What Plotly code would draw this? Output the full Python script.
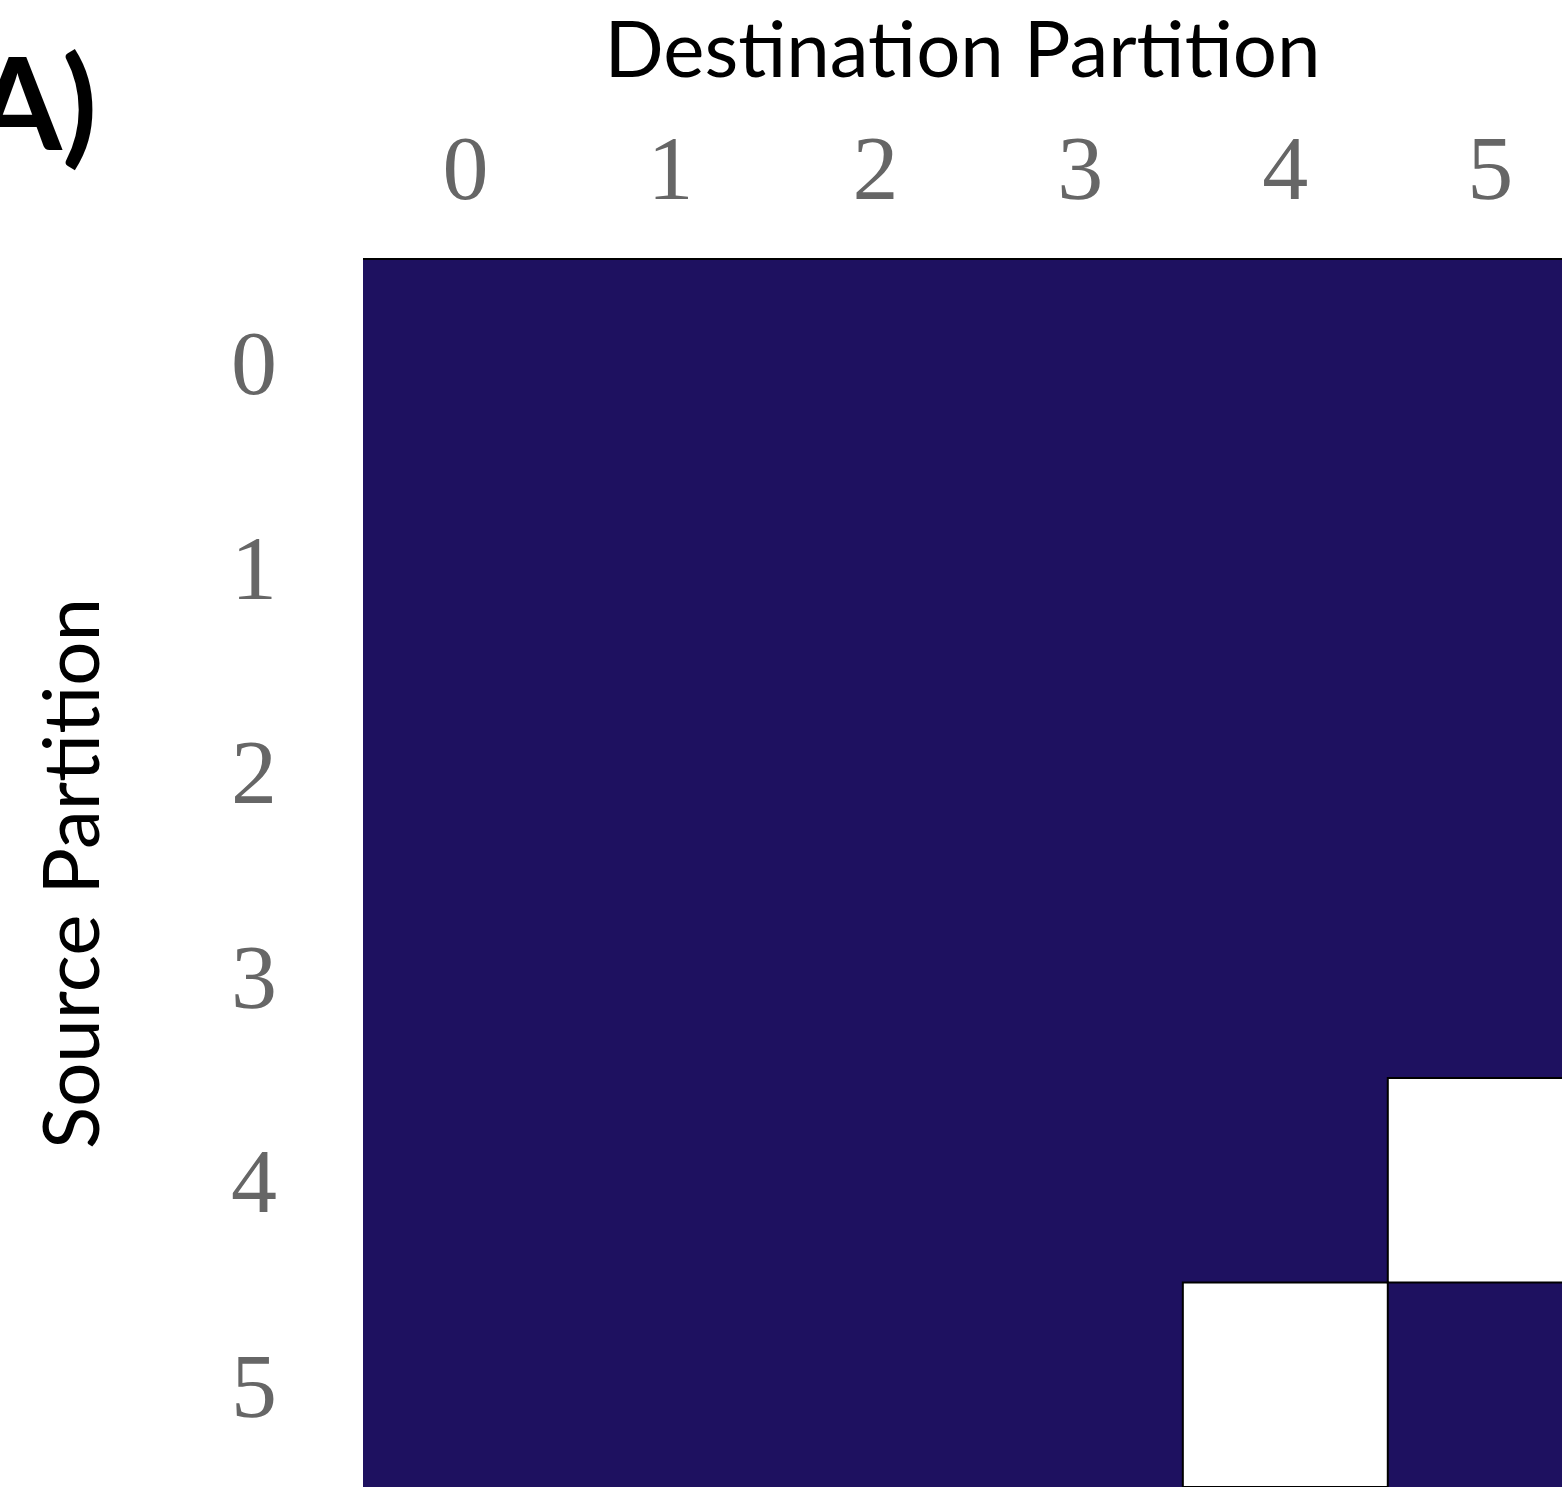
import plotly.graph_objects as go

# Partition connectivity: 1 = edge present, 0 = no edge
source_partitions = [0, 1, 2, 3, 4, 5]
destination_partitions = [0, 1, 2, 3, 4, 5]
connectivity = [
    [1, 1, 1, 1, 1, 1],
    [1, 1, 1, 1, 1, 1],
    [1, 1, 1, 1, 1, 1],
    [1, 1, 1, 1, 1, 1],
    [1, 1, 1, 1, 1, 0],
    [1, 1, 1, 1, 0, 1],
]

NAVY = "rgb(30,17,96)"
TICK_FONT = dict(family="Liberation Serif", size=92, color="#666666")
TITLE_FONT = dict(family="Lato", size=78, color="black")

fig = go.Figure(
    go.Heatmap(
        z=connectivity,
        x=destination_partitions,
        y=source_partitions,
        colorscale=[[0, "white"], [1, NAVY]],
        zmin=0,
        zmax=1,
        showscale=False,
    )
)

# outline the empty cells
for i, row in enumerate(connectivity):
    for j, v in enumerate(row):
        if v == 0:
            fig.add_shape(
                type="rect",
                x0=destination_partitions[j] - 0.5,
                x1=destination_partitions[j] + 0.5,
                y0=source_partitions[i] - 0.5,
                y1=source_partitions[i] + 0.5,
                line=dict(color="black", width=2),
                layer="above",
            )

fig.update_xaxes(
    side="top",
    range=[-0.5, 5.35],
    tickmode="array",
    tickvals=destination_partitions,
    ticktext=[str(v) for v in destination_partitions],
    tickfont=TICK_FONT,
    ticks="",
    ticklabelstandoff=22,
    showgrid=False,
    zeroline=False,
    showline=True,
    linecolor="black",
    linewidth=2,
    mirror=False,
    title=dict(text="Destination Partition", font=TITLE_FONT, standoff=22),
)
fig.update_yaxes(
    range=[5.5, -0.5],
    tickmode="array",
    tickvals=source_partitions,
    ticktext=[str(v) for v in source_partitions],
    tickfont=TICK_FONT,
    ticks="",
    ticklabelstandoff=85,
    showgrid=False,
    zeroline=False,
    title=dict(text="Source Partition", font=TITLE_FONT, standoff=105),
)

fig.add_annotation(
    text="<b>A)</b>",
    xref="paper",
    yref="paper",
    x=-0.22,
    y=1.13,
    xanchor="right",
    yanchor="middle",
    showarrow=False,
    font=dict(family="Lato", size=128, color="black"),
)

fig.update_layout(
    width=1562,
    height=1487,
    margin=dict(l=363, r=0, t=260, b=0),
    plot_bgcolor="white",
    paper_bgcolor="white",
)

fig.write_html("out.html")
